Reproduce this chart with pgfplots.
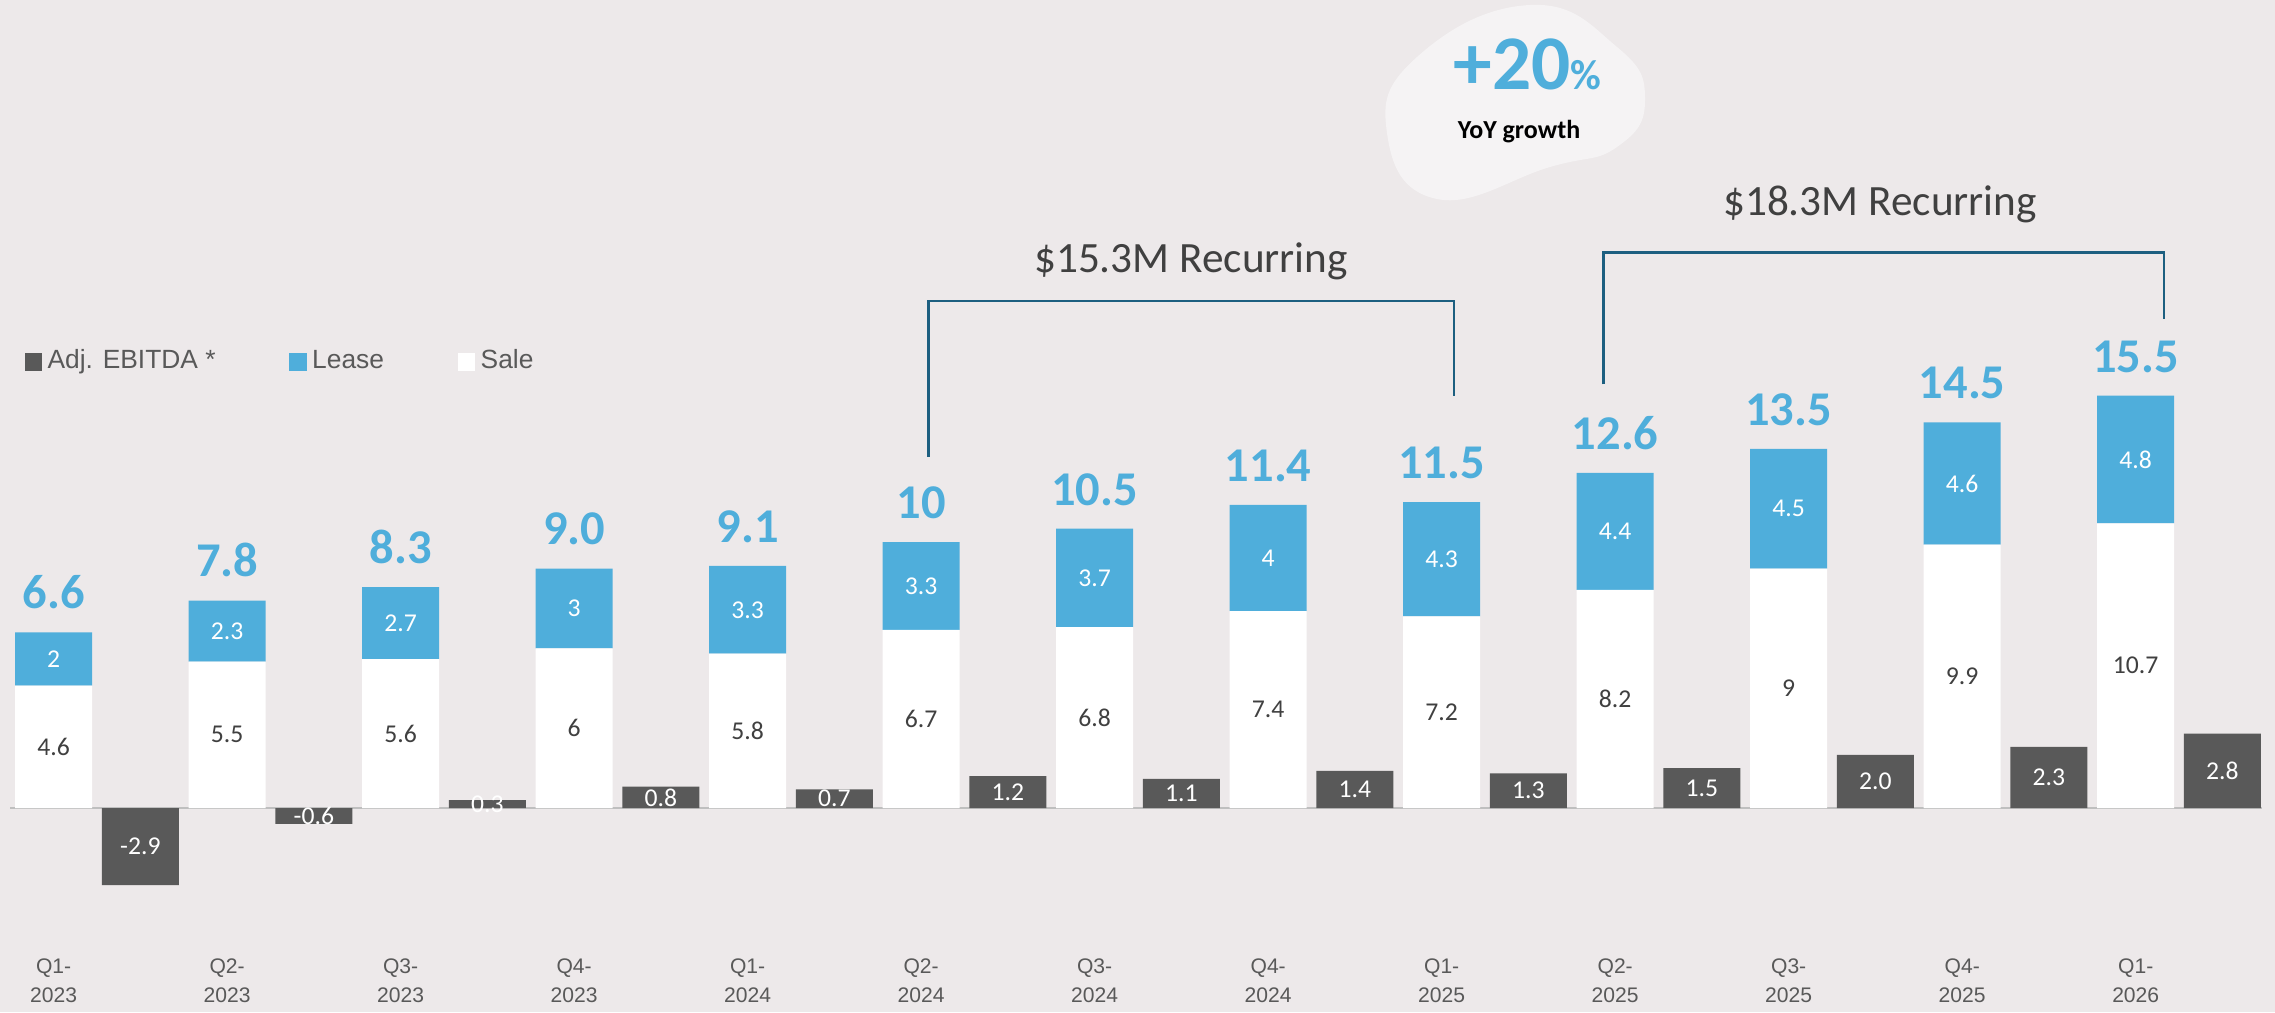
\documentclass[border=0pt]{standalone}
\usepackage{fontspec}
\setmainfont{Carlito}
\newfontfamily\arialf{Liberation Sans}
\usepackage{pgfplots}
\pgfplotsset{compat=1.18}
\usepackage{pgfplotstable}

\definecolor{bgc}{HTML}{EDE9EA}
\definecolor{lease}{HTML}{4FAEDB}
\definecolor{ebit}{HTML}{595959}
\definecolor{txtdark}{HTML}{404040}
\definecolor{brk}{HTML}{1D5F80}
\definecolor{blobc}{HTML}{F5F3F4}
\definecolor{zerol}{HTML}{BFBFBF}

% sale / lease stack, total, adj. EBITDA
\pgfplotstableread{
x  sale lease total ebitda
0  4.6  2    6.6  -2.9
1  5.5  2.3  7.8  -0.6
2  5.6  2.7  8.3  0.3
3  6    3    9.0  0.8
4  5.8  3.3  9.1  0.7
5  6.7  3.3  10   1.2
6  6.8  3.7  10.5 1.1
7  7.4  4    11.4 1.4
8  7.2  4.3  11.5 1.3
9  8.2  4.4  12.6 1.5
10 9    4.5  13.5 2.0
11 9.9  4.6  14.5 2.3
12 10.7 4.8  15.5 2.8
}\quarters

\pgfplotsset{
  frame/.style={
    at={(0,0)}, anchor=south west,
    scale only axis, width=22.75cm, height=10.12cm,
    xmin=-0.309, xmax=12.803, ymin=-7.669, ymax=30.376,
    axis line style={draw=none}, ytick=\empty,
    major tick length=0pt, clip=false,
    bar width=0.77cm,
  },
  seglabel/.style={
    nodes near coords, point meta=explicit symbolic,
    every node near coord/.append style={anchor=center,
      font=\fontsize{7.3}{8}\selectfont, text=#1},
  },
}

\begin{document}
\begin{tikzpicture}
\fill[bgc] (0,0) rectangle (22.75,10.12);
\useasboundingbox (0,0) rectangle (22.75,10.12);

\begin{axis}[frame, ybar stacked,
  xtick={0,...,12},
  xticklabels={{Q1-\\2023},{Q2-\\2023},{Q3-\\2023},{Q4-\\2023},
    {Q1-\\2024},{Q2-\\2024},{Q3-\\2024},{Q4-\\2024},
    {Q1-\\2025},{Q2-\\2025},{Q3-\\2025},{Q4-\\2025},{Q1-\\2026}},
  xticklabel style={align=center, anchor=south, yshift=-0.03cm,
    font=\arialf\fontsize{6}{8.3}\selectfont, text=ebit},
]
\addplot[fill=white, draw=none, seglabel=txtdark]
  table[x=x, y=sale, meta=sale] {\quarters};
\addplot[fill=lease, draw=none, seglabel=white]
  table[x=x, y=lease, meta=lease] {\quarters};
\draw[zerol, line width=0.6pt] (axis cs:-0.25,0) -- (axis cs:12.73,0);
\end{axis}

\begin{axis}[frame, ybar, xtick=\empty,
  legend columns=3,
  legend style={at={(0.0105,0.6423)}, anchor=west, draw=none, fill=none,
    inner sep=0pt, font=\arialf\fontsize{7.5}{9}\selectfont, text=ebit,
    nodes={inner sep=1.6pt},
    /tikz/every even column/.append style={column sep=0.68cm}},
]
\addplot[fill=ebit, draw=none, bar shift=0.8675cm, forget plot,
  nodes near coords, point meta=explicit symbolic,
  visualization depends on={y \as \rawy},
  every node near coord/.append style={anchor=center,
    font=\fontsize{7.3}{8}\selectfont, text=white,
    shift={(axis direction cs:0,-\rawy/2)}}]
  table[x=x, y=ebitda, meta=ebitda] {\quarters};
% totals above the stacks
\addplot[fill=none, draw=none, bar shift=0pt, forget plot,
  nodes near coords, point meta=explicit symbolic,
  every node near coord/.append style={anchor=base, inner sep=0pt,
    yshift=0.237cm, font=\fontsize{13.8}{15}\selectfont\bfseries, text=lease}]
  table[x=x, y=total, meta=total] {\quarters};
\addlegendimage{legend image code/.code={\fill[ebit] (0cm,-0.08cm) rectangle (0.16cm,0.08cm);}}
\addlegendentry{Adj. EBITDA *}
\addlegendimage{legend image code/.code={\fill[lease] (0cm,-0.08cm) rectangle (0.16cm,0.08cm);}}
\addlegendentry{Lease}
\addlegendimage{legend image code/.code={\fill[white] (0cm,-0.08cm) rectangle (0.16cm,0.08cm);}}
\addlegendentry{Sale}
\end{axis}

% recurring brackets
\draw[brk, line width=0.8pt] (9.283,5.553) -- (9.283,7.11) -- (14.54,7.11) -- (14.54,6.163);
\draw[brk, line width=0.8pt] (16.033,6.277) -- (16.033,7.597) -- (21.64,7.597) -- (21.64,6.93);
\node[anchor=base, font=\fontsize{12.3}{14}\selectfont, text=txtdark] at (11.91,7.393) {\$15.3M Recurring};
\node[anchor=base, font=\fontsize{12.3}{14}\selectfont, text=txtdark] at (18.80,7.97) {\$18.3M Recurring};

% growth bubble
\fill[blobc] plot[smooth cycle, tension=0.8] coordinates {(15.30,10.07) (16.17,9.65) (16.45,9.12) (16.17,8.65) (15.50,8.45) (14.37,8.13) (13.87,8.79) (14.17,9.55)};
\node[anchor=base, text=lease, font=\bfseries, inner sep=0pt] at (15.275,9.227)
  {{\fontsize{22}{24}\selectfont +20}{\fontsize{12}{14}\selectfont\%}};
\node[anchor=base, font=\fontsize{7.4}{9}\selectfont\bfseries, inner sep=0pt] at (15.19,8.737) {YoY growth};
\end{tikzpicture}
\end{document}
